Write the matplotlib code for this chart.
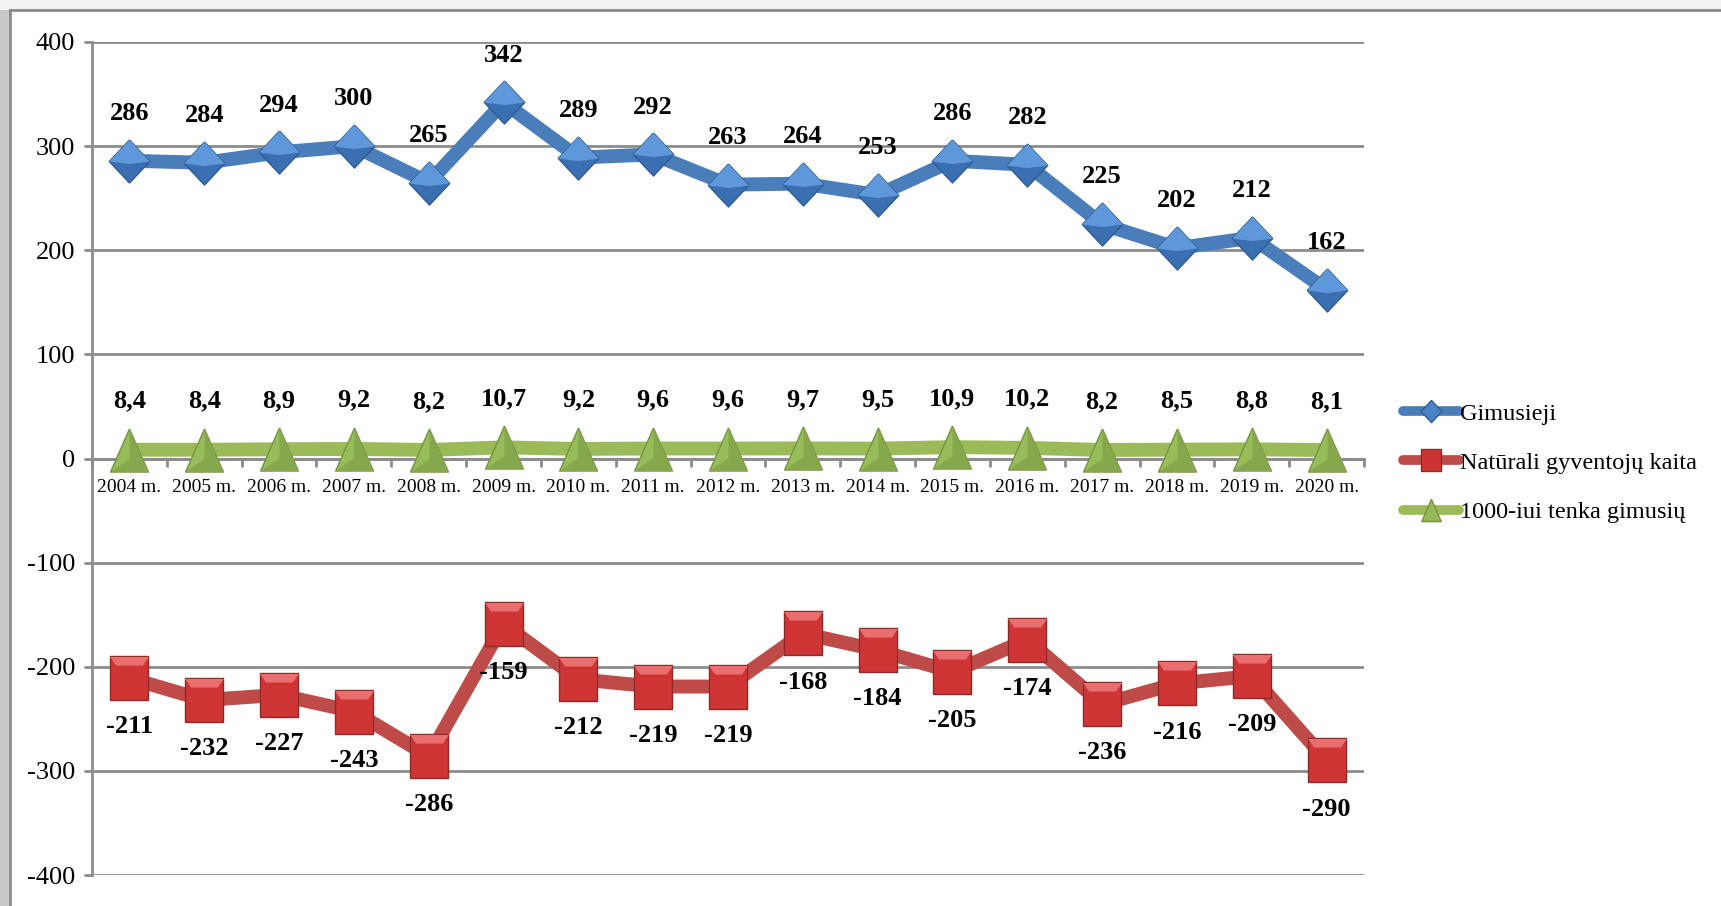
import matplotlib
matplotlib.use("Agg")
import matplotlib.pyplot as plt
from matplotlib.lines import Line2D
from matplotlib.patches import Rectangle
import numpy as np

years = ["2004 m.", "2005 m.", "2006 m.", "2007 m.", "2008 m.", "2009 m.", "2010 m.",
         "2011 m.", "2012 m.", "2013 m.", "2014 m.", "2015 m.", "2016 m.", "2017 m.",
         "2018 m.", "2019 m.", "2020 m."]
gimusieji = [286, 284, 294, 300, 265, 342, 289, 292, 263, 264, 253, 286, 282, 225, 202, 212, 162]
naturali = [-211, -232, -227, -243, -286, -159, -212, -219, -219, -168, -184, -205, -174, -236, -216, -209, -290]
per1000 = [8.4, 8.4, 8.9, 9.2, 8.2, 10.7, 9.2, 9.6, 9.6, 9.7, 9.5, 10.9, 10.2, 8.2, 8.5, 8.8, 8.1]
series_names = ["Gimusieji", "Natūrali gyventojų kaita", "1000-iui tenka gimusių"]
yticks = [-400, -300, -200, -100, 0, 100, 200, 300, 400]

plt.rcParams['font.family'] = ['Liberation Serif', 'DejaVu Serif']

W, H = 1721, 906
fig = plt.figure(figsize=(W / 100, H / 100), dpi=100)
fig.patch.set_facecolor('white')

# outer frame / shadow
fig.add_artist(Rectangle((0, 0), 10 / W, 1, transform=fig.transFigure, facecolor='#c9c9c9',
                         edgecolor='none', zorder=0))
fig.add_artist(Rectangle((0, 1 - 10 / H), 1, 10 / H, transform=fig.transFigure, facecolor='#f2f2f2',
                         edgecolor='none', zorder=0))
fig.add_artist(Line2D([10 / W, 10 / W], [0, 1 - 10 / H], transform=fig.transFigure, color='#8a8a8a', lw=2))
fig.add_artist(Line2D([10 / W, 1], [1 - 10 / H, 1 - 10 / H], transform=fig.transFigure, color='#8a8a8a', lw=2))

ax = fig.add_axes([92 / W, 1 - 875 / H, (1364 - 92) / W, (875 - 42) / H])
x = np.arange(len(years))
ax.set_xlim(-0.5, len(years) - 0.5)
ax.set_ylim(-400, 400)

gridc = '#8c8c8c'
ax.set_yticks(yticks)
ax.set_yticklabels([str(v) for v in yticks], fontsize=19)
ax.yaxis.grid(True, color=gridc, lw=2)
ax.set_axisbelow(True)
for s in ['top', 'right']:
    ax.spines[s].set_visible(False)
ax.spines['left'].set_color(gridc)
ax.spines['left'].set_linewidth(2)
ax.spines['bottom'].set_position(('data', 0))
ax.spines['bottom'].set_color(gridc)
ax.spines['bottom'].set_linewidth(2)
ax.tick_params(axis='y', length=6, width=2, color=gridc, pad=6, labelcolor='black')
ax.set_xticks(x)
ax.set_xticklabels(years, fontsize=14)
ax.set_xticks(np.arange(-0.5, len(years), 1), minor=True)
ax.tick_params(axis='x', which='major', length=0, pad=15)
ax.tick_params(axis='x', which='minor', length=6, width=2, color=gridc)

diamond = [(0, 0.5), (0.47, 0), (0, -0.5), (-0.47, 0), (0, 0.5)]
diamond_top = [(0, 0.5), (0.47, 0), (0, -0.06), (-0.47, 0), (0, 0.5)]
square = [(-0.45, -0.5), (0.45, -0.5), (0.45, 0.5), (-0.45, 0.5), (-0.45, -0.5)]
square_top = [(-0.45, 0.5), (0.45, 0.5), (0.31, 0.3), (-0.31, 0.3), (-0.45, 0.5)]
triangle = [(0, 0.5), (0.44, -0.5), (-0.44, -0.5), (0, 0.5)]
triangle_low = [(0, 0.5), (0.44, -0.5), (-0.44, -0.5), (0, -0.2), (0, 0.5)]

blue, red, green = '#4a7ebb', '#be4b48', '#9bbb59'
ms = 31
lw = 10

ax.plot(x, gimusieji, color=blue, lw=lw, zorder=3, solid_joinstyle='miter')
ax.plot(x, gimusieji, ls='none', marker=diamond, ms=ms, mfc='#3a6fb2', mec='#2f5d94', mew=1, zorder=4)
ax.plot(x, gimusieji, ls='none', marker=diamond_top, ms=ms, mfc='#5e98da', mec='none', zorder=5)

ax.plot(x, naturali, color=red, lw=lw, zorder=3, solid_joinstyle='miter')
ax.plot(x, naturali, ls='none', marker=square, ms=ms, mfc='#cf3535', mec='#8f2a28', mew=1, zorder=4)
ax.plot(x, naturali, ls='none', marker=square_top, ms=ms, mfc='#ea6e6e', mec='none', zorder=5)

ax.plot(x, per1000, color=green, lw=lw, zorder=3, solid_joinstyle='miter')
ax.plot(x, per1000, ls='none', marker=triangle, ms=ms, mfc='#97bc5a', mec='#76933f', mew=1, zorder=4)
ax.plot(x, per1000, ls='none', marker=triangle_low, ms=ms, mfc='#86a84c', mec='none', zorder=5)

for xi, v in zip(x, gimusieji):
    ax.annotate(str(v), (xi, v), xytext=(0, 34), textcoords='offset points', ha='center', va='center',
                fontsize=19, fontweight='bold', zorder=6)
for xi, v in zip(x, naturali):
    ax.annotate(str(v), (xi, v), xytext=(0, -35), textcoords='offset points', ha='center', va='center',
                fontsize=19, fontweight='bold', zorder=6)
for xi, v in zip(x, per1000):
    ax.annotate(f"{v:.1f}".replace('.', ','), (xi, v), xytext=(0, 35), textcoords='offset points',
                ha='center', va='center', fontsize=19, fontweight='bold', zorder=6)

handles = [
    Line2D([], [], color=blue, lw=7, marker=diamond, ms=16, mfc='#4a84c8', mec='#2f5d94', solid_capstyle='round'),
    Line2D([], [], color=red, lw=7, marker=square, ms=16, mfc='#cc3333', mec='#8f2a28', solid_capstyle='round'),
    Line2D([], [], color=green, lw=7, marker=triangle, ms=16, mfc='#94b958', mec='#76933f', solid_capstyle='round'),
]
fig.legend(handles, series_names, loc='center left', bbox_to_anchor=(1403 / W, 1 - 463 / H),
           frameon=False, fontsize=17.5, handlelength=2.3, handletextpad=0.05, labelspacing=1.12,
           borderpad=0, borderaxespad=0)

fig.savefig('out.png', dpi=100)
